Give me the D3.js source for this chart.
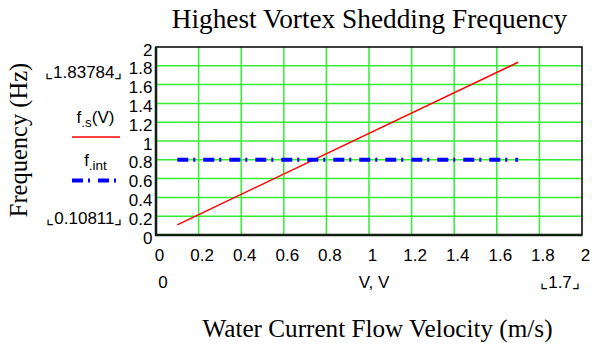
<!DOCTYPE html>
<html>
<head>
<meta charset="utf-8">
<script src="https://cdn.jsdelivr.net/npm/d3@7"></script>
<style>
  body { margin: 0; background: #fff; }
  svg { display: block; }
</style>
</head>
<body>
<div id="chart"></div>
<script>
// chart data
const velocity = [0.1, 1.7]; // V, m/s
const fsValues = [0.10811, 1.83784]; // f_s(V), Hz
const fIntValues = [0.8, 0.8]; // f_int, Hz
const xTicks = [0, 0.2, 0.4, 0.6, 0.8, 1, 1.2, 1.4, 1.6, 1.8, 2];
const yTicks = [0, 0.2, 0.4, 0.6, 0.8, 1, 1.2, 1.4, 1.6, 1.8, 2];

const width = 592;
const height = 350;
const plot = { left: 156, right: 582, top: 47, bottom: 235 };
const sans = "'Liberation Sans', Arial, sans-serif";
const serif = "'Liberation Serif', 'Times New Roman', serif";
const tickSize = 17;

const svg = d3.select("#chart")
  .append("svg")
  .attr("width", width)
  .attr("height", height);

const x = d3.scaleLinear().domain([0, 2]).range([plot.left, plot.right]);
const y = d3.scaleLinear().domain([0, 2]).range([plot.bottom, plot.top]);

// grid
svg.append("g")
  .selectAll("line")
  .data(xTicks.slice(1, -1))
  .join("line")
  .attr("x1", d => x(d)).attr("x2", d => x(d))
  .attr("y1", plot.top).attr("y2", plot.bottom)
  .attr("stroke", "#33ee33").attr("stroke-width", 1.5);

svg.append("g")
  .selectAll("line")
  .data(yTicks.slice(1, -1))
  .join("line")
  .attr("x1", plot.left).attr("x2", plot.right)
  .attr("y1", d => y(d)).attr("y2", d => y(d))
  .attr("stroke", "#33ee33").attr("stroke-width", 1.5);

// frame
svg.append("rect")
  .attr("x", plot.left).attr("y", plot.top)
  .attr("width", plot.right - plot.left)
  .attr("height", plot.bottom - plot.top)
  .attr("fill", "none").attr("stroke", "#000").attr("stroke-width", 1.5);
svg.append("path")
  .attr("d", `M${plot.left},${plot.top}V${plot.bottom}H${plot.right}`)
  .attr("fill", "none").attr("stroke", "#102010").attr("stroke-width", 2.5);

// tick labels
svg.append("g")
  .selectAll("text")
  .data(yTicks)
  .join("text")
  .attr("x", plot.left - 3.5)
  .attr("y", d => y(d) + 8.5)
  .attr("text-anchor", "end")
  .attr("font-family", sans).attr("font-size", tickSize)
  .text(d => d);

svg.append("g")
  .selectAll("text")
  .data(xTicks)
  .join("text")
  .attr("x", d => x(d) + 3.5)
  .attr("y", 261)
  .attr("text-anchor", "middle")
  .attr("font-family", sans).attr("font-size", tickSize)
  .text(d => d);

// series
const pts = (vals) => velocity.map((v, i) => [v, vals[i]]);
const line = d3.line().x(d => x(d[0])).y(d => y(d[1]));

svg.append("path")
  .attr("d", line(pts(fsValues)))
  .attr("fill", "none").attr("stroke", "#ff0000").attr("stroke-width", 1.5);

svg.append("path")
  .attr("d", line(pts(fIntValues)))
  .attr("fill", "none").attr("stroke", "#0000ff").attr("stroke-width", 4)
  .attr("stroke-dasharray", "11,5,2,8");

// range labels
const cornerText = (t, xx, yy, anchor) => svg.append("text")
  .attr("x", xx).attr("y", yy)
  .attr("text-anchor", anchor)
  .attr("font-family", sans).attr("font-size", tickSize)
  .text(t);

cornerText("\u231E" + d3.max(fsValues) + "\u231F", 122.5, 78, "end");
cornerText("\u231E" + d3.min(fsValues) + "\u231F", 122.5, 224, "end");
cornerText(0, 163, 288, "middle");
cornerText("V, V", 374, 288, "middle");
cornerText("\u231E" + d3.max(velocity) + "\u231F", 560, 288, "middle");

// legend
const legend = [
  { base: "f", sub: ".s", tail: "(V)", y: 123, color: "#ff0000", w: 1.5, dash: null, ly: 137 },
  { base: "f", sub: ".int", tail: "", y: 166, color: "#0000ff", w: 4, dash: "11,5,2,8", ly: 180.5 }
];
legend.forEach(l => {
  const t = svg.append("text")
    .attr("x", 95.5).attr("y", l.y)
    .attr("text-anchor", "middle")
    .attr("font-family", sans).attr("font-size", tickSize);
  t.append("tspan").text(l.base);
  t.append("tspan").attr("font-size", 13.5).attr("dy", 4).text(l.sub);
  if (l.tail) t.append("tspan").attr("dy", -4).text(l.tail);
  svg.append("line")
    .attr("x1", 72).attr("x2", 120)
    .attr("y1", l.ly).attr("y2", l.ly)
    .attr("stroke", l.color).attr("stroke-width", l.w)
    .attr("stroke-dasharray", l.dash);
});

// titles
svg.append("text")
  .attr("x", 369.5).attr("y", 28)
  .attr("text-anchor", "middle")
  .attr("font-family", serif).attr("font-size", 27.3)
  .text("Highest Vortex Shedding Frequency");

svg.append("text")
  .attr("x", 377.5).attr("y", 337)
  .attr("text-anchor", "middle")
  .attr("font-family", serif).attr("font-size", 25.2)
  .text("Water Current Flow Velocity (m/s)");

svg.append("text")
  .attr("transform", "translate(27,140) rotate(-90)")
  .attr("text-anchor", "middle")
  .attr("font-family", serif).attr("font-size", 24.5)
  .text("Frequency (Hz)");
</script>
</body>
</html>
